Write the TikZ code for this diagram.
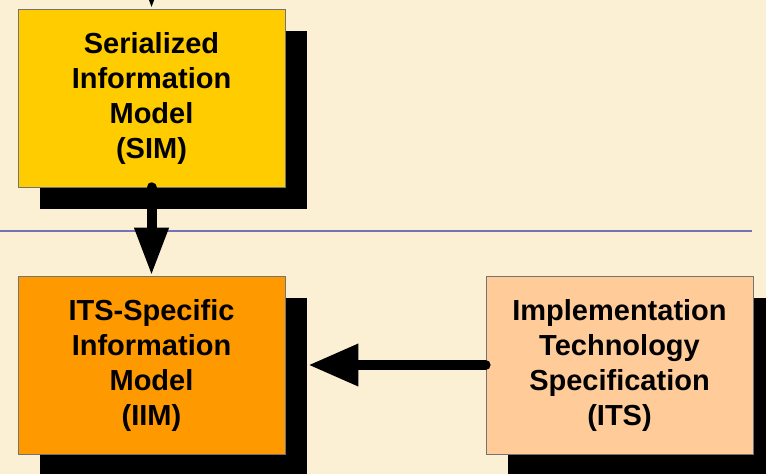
\documentclass[tikz,border=0pt]{standalone}
\usepackage{fontspec}
\setmainfont{Liberation Sans}
\usetikzlibrary{arrows.meta,shadows}
\definecolor{bg}{HTML}{FBF0D3}
\definecolor{simcol}{HTML}{FFCC00}
\definecolor{iimcol}{HTML}{FF9900}
\definecolor{itscol}{HTML}{FFCC99}
\definecolor{rulecol}{HTML}{7373B5}
\tikzset{
  modelbox/.style={draw=black!55, line width=0.8pt, minimum width=267pt, minimum height=178pt,
    align=center, font=\fontsize{29}{35}\selectfont\bfseries, inner sep=0pt,
    general shadow={fill=black, shadow xshift=22pt, shadow yshift=-22pt}},
  flow/.style={line width=10pt, line cap=round, -{Triangle[width=32pt,length=48pt]}},
  flowh/.style={line width=10pt, line cap=round, -{Triangle[width=40pt,length=50pt]}},
}
\begin{document}
\begin{tikzpicture}[x=1pt,y=-1pt]
\fill[bg] (0,0) rectangle (766,474);
\useasboundingbox (0,0) rectangle (766,474);
\coordinate (ruleL) at (0,231);
\coordinate (ruleR) at (752,231);
\draw[rulecol, line width=1.3pt] (ruleL) -- (ruleR);
\node[modelbox, fill=simcol] (sim) at (151.5,98) {Serialized\\Information\\Model\\(SIM)};
\node[modelbox, fill=iimcol] (iim) at (151.5,365) {ITS-Specific\\Information\\Model\\(IIM)};
\node[modelbox, fill=itscol] (its) at (619.5,365) {Implementation\\Technology\\Specification\\(ITS)};
\coordinate (above) at (152,-70);
\draw[flow] (above) -- (sim.north);
\draw[flow] (sim.south) -- (iim.north);
\draw[flowh] (its.west) -- ([xshift=23pt]iim.east);
\end{tikzpicture}
\end{document}
